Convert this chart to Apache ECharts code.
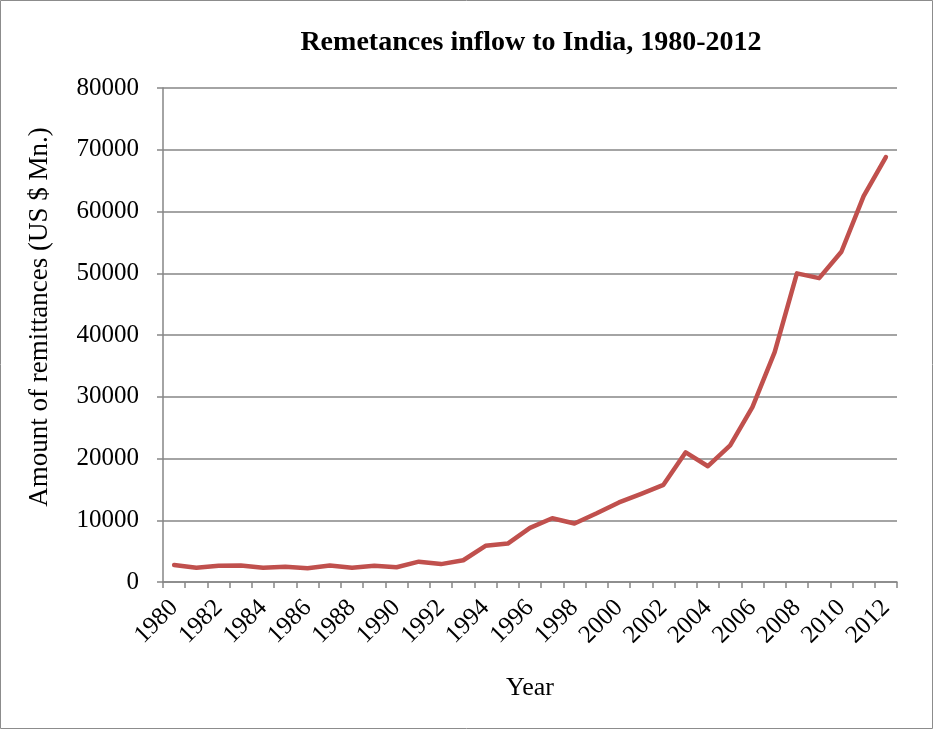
<!DOCTYPE html>
<html>
<head>
<meta charset="utf-8">
<style>
  html, body { margin: 0; padding: 0; background: #fff; }
  #chart { width: 933px; height: 729px; }
</style>
<script src="https://cdn.jsdelivr.net/npm/echarts@6/dist/echarts.min.js"></script>
</head>
<body>
<div id="chart"></div>
<script>
// Yearly remittance inflows to India, US $ million
const years = [
  '1980','1981','1982','1983','1984','1985','1986','1987','1988','1989','1990',
  '1991','1992','1993','1994','1995','1996','1997','1998','1999','2000','2001',
  '2002','2003','2004','2005','2006','2007','2008','2009','2010','2011','2012'
];
const remittances = [
  2757, 2301, 2618, 2660, 2295, 2469, 2240, 2665, 2315, 2614, 2384,
  3289, 2897, 3523, 5857, 6223, 8766, 10331, 9479, 11124, 12890, 14273,
  15736, 20999, 18750, 22125, 28334, 37217, 49977, 49204, 53480, 62499, 68821
];
const yTicks = [0, 10000, 20000, 30000, 40000, 50000, 60000, 70000, 80000];

const serif = '"Liberation Serif", "Times New Roman", serif';
const axisGrey = '#868686';

const chart = echarts.init(document.getElementById('chart'), null, { renderer: 'canvas' });
chart.setOption({
  animation: false,
  backgroundColor: '#ffffff',
  title: {
    text: 'Remetances inflow to India, 1980-2012',
    left: 526,
    top: 24,
    textAlign: 'center',
    textStyle: { fontFamily: serif, fontWeight: 'bold', fontSize: 28, color: '#000' }
  },
  graphic: [{
    type: 'rect',
    shape: { x: 0.5, y: 0.5, width: 932, height: 728 },
    style: { fill: 'none', stroke: '#8c8c8c', lineWidth: 1 },
    silent: true
  }],
  grid: { left: 163, right: 36, top: 88, bottom: 147, containLabel: false },
  xAxis: {
    type: 'category',
    data: years,
    boundaryGap: true,
    name: 'Year',
    nameLocation: 'middle',
    nameGap: 93,
    nameTextStyle: { fontFamily: serif, fontSize: 26, color: '#000' },
    axisLine: { lineStyle: { color: axisGrey, width: 1.5 } },
    axisTick: { show: true, interval: 0, length: 6, alignWithLabel: false, lineStyle: { color: axisGrey, width: 1.5 } },
    axisLabel: {
      interval: 1,
      rotate: 45,
      margin: 22,
      fontFamily: serif,
      fontSize: 25,
      color: '#000'
    },
    splitLine: { show: false }
  },
  yAxis: {
    type: 'value',
    min: yTicks[0],
    max: yTicks[yTicks.length - 1],
    interval: yTicks[1] - yTicks[0],
    name: 'Amount of remittances (US $ Mn.)',
    nameLocation: 'middle',
    nameGap: 110,
    nameRotate: 90,
    nameTextStyle: { fontFamily: serif, fontSize: 27, color: '#000', padding: [0, 0, 0, 36] },
    axisLine: { show: true, lineStyle: { color: axisGrey, width: 1.5 } },
    axisTick: { show: true, length: 6, lineStyle: { color: axisGrey, width: 1.5 } },
    axisLabel: {
      margin: 24,
      fontFamily: serif,
      fontSize: 25,
      color: '#000',
      formatter: v => String(v)
    },
    splitLine: { show: true, lineStyle: { color: axisGrey, width: 1.5 } }
  },
  series: [{
    type: 'line',
    data: remittances,
    symbol: 'none',
    lineStyle: { color: '#C0504D', width: 4.5, cap: 'round', join: 'round' }
  }]
});
</script>
</body>
</html>
